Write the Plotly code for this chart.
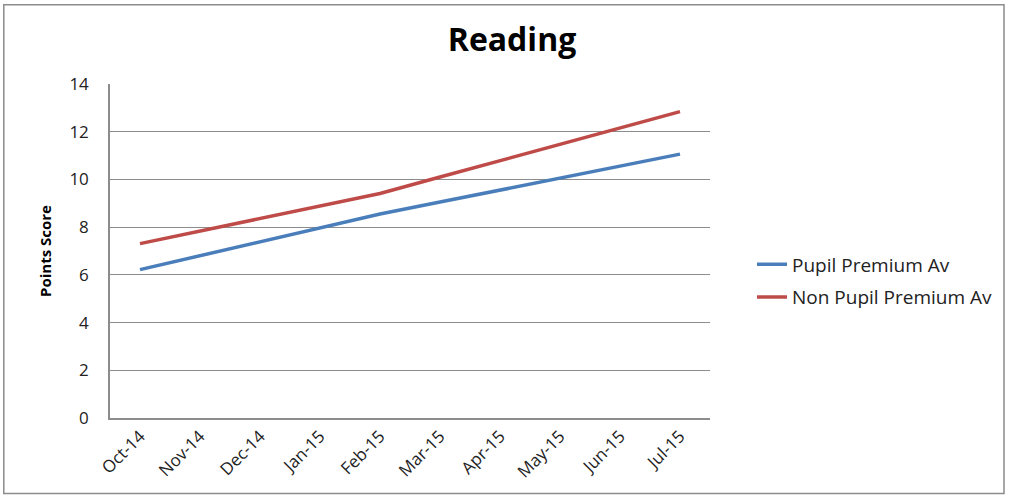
import plotly.graph_objects as go

months = ["Oct-14", "Nov-14", "Dec-14", "Jan-15", "Feb-15",
          "Mar-15", "Apr-15", "May-15", "Jun-15", "Jul-15"]
pupil_premium = [6.22, 6.80, 7.38, 7.97, 8.55, 9.05, 9.56, 10.06, 10.56, 11.06]
non_pupil_premium = [7.31, 7.84, 8.36, 8.88, 9.41, 10.10, 10.78, 11.47, 12.15, 12.84]

FONT = "Open Sans"

fig = go.Figure()
fig.add_trace(go.Scatter(x=months, y=pupil_premium, mode="lines", name="Pupil Premium Av",
                         legendgroup="a", line=dict(color="#4a7ebb", width=3.5)))
fig.add_trace(go.Scatter(x=months, y=non_pupil_premium, mode="lines", name="Non Pupil Premium Av",
                         legendgroup="b", line=dict(color="#be4b48", width=3.5)))

# outer chart frame
fig.add_shape(type="rect", xref="paper", yref="paper",
              x0=-0.177, x1=1.49, y0=-0.226, y1=1.237,
              line=dict(color="#8c8c8c", width=1.5))

fig.update_layout(
    width=1011, height=501,
    margin=dict(l=110, r=301, t=84, b=83),
    paper_bgcolor="white", plot_bgcolor="white",
    font=dict(family=FONT, color="#222222", size=15),
    title=dict(text="<b>Reading</b>", x=(512 - 110) / 600, xref="paper", xanchor="center",
               y=1 - 40 / 501, yanchor="middle", font=dict(size=32, color="black")),
    showlegend=True,
    legend=dict(x=(752 - 110) / 600, y=(418 - 281) / 334, xanchor="left", yanchor="middle",
                traceorder="grouped", tracegroupgap=5, font=dict(size=19, color="#222222"),
                bgcolor="rgba(0,0,0,0)"),
)
fig.update_xaxes(type="category", tickangle=-45, showgrid=False, showline=True,
                 linecolor="#8c8c8c", linewidth=1.5, ticks="", tickfont=dict(size=17),
                 range=[-0.5, 9.5])
fig.update_yaxes(range=[0, 14], dtick=2, showgrid=True, gridcolor="#8c8c8c", gridwidth=1,
                 showline=True, linecolor="#8c8c8c", linewidth=1.5, zeroline=False,
                 ticks="", ticklabelstandoff=16, tickfont=dict(size=17),
                 title=dict(text="<b>Points Score</b>", font=dict(size=15, color="black"), standoff=14))

fig.write_html("out.html", config={"displayModeBar": False},
               post_script="document.body.style.margin='0';document.body.style.overflow='hidden';")
